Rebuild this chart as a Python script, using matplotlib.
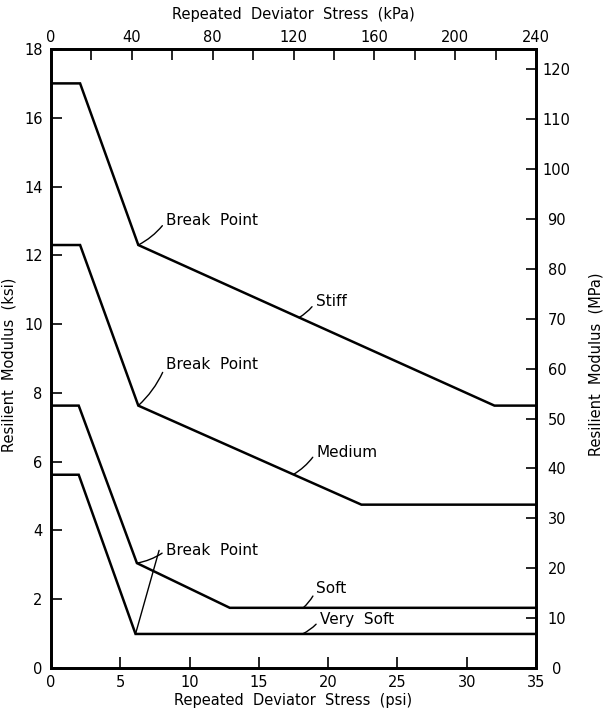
import matplotlib
matplotlib.use("Agg")
import matplotlib.pyplot as plt

plt.rcParams['font.family'] = ['DejaVu Sans']

# Resilient modulus (ksi) vs repeated deviator stress (psi) for four subgrade types
stiff_psi = [0.0, 2.1, 6.3, 32.0, 35.0]
stiff_ksi = [17.0, 17.0, 12.3, 7.63, 7.63]

medium_psi = [0.0, 2.1, 6.3, 22.4, 35.0]
medium_ksi = [12.3, 12.3, 7.63, 4.75, 4.75]

soft_psi = [0.0, 2.0, 6.2, 12.9, 35.0]
soft_ksi = [7.63, 7.63, 3.05, 1.75, 1.75]

very_soft_psi = [0.0, 2.0, 6.1, 35.0]
very_soft_ksi = [5.62, 5.62, 0.99, 0.99]

x_ticks_psi = [0, 5, 10, 15, 20, 25, 30, 35]
y_ticks_ksi = [0, 2, 4, 6, 8, 10, 12, 14, 16, 18]
top_ticks_kpa = [0, 20, 40, 60, 80, 100, 120, 140, 160, 180, 200, 220, 240]
top_labels_kpa = ['0', '', '40', '', '80', '', '120', '', '160', '', '200', '', '240']
right_ticks_mpa = [0, 10, 20, 30, 40, 50, 60, 70, 80, 90, 100, 110, 120]

KSI_TO_MPA = 6.895

fig = plt.figure(figsize=(6.03, 7.12), dpi=100)
ax = fig.add_axes([51 / 603, 44 / 712, 485 / 603, 619 / 712])

lw = 1.8
for xs, ys in [(stiff_psi, stiff_ksi), (medium_psi, medium_ksi),
               (soft_psi, soft_ksi), (very_soft_psi, very_soft_ksi)]:
    ax.plot(xs, ys, color='black', lw=lw, solid_joinstyle='miter')

ax.set_xlim(0, 35)
ax.set_ylim(0, 18)
for s in ax.spines.values():
    s.set_linewidth(1.8)

fs = 10.5
ax.set_xticks(x_ticks_psi)
ax.set_yticks(y_ticks_ksi)
ax.tick_params(axis='both', direction='in', length=8, width=1.2, labelsize=fs)
ax.tick_params(axis='y', pad=6)
ax.tick_params(axis='x', pad=5)
ax.set_xlabel('Repeated  Deviator  Stress  (psi)', fontsize=fs, labelpad=2)
ax.set_ylabel('Resilient  Modulus  (ksi)', fontsize=fs)
ax.yaxis.set_label_coords(-0.072, 0.49)

# Top axis in kPa
axt = ax.twiny()
axt.set_xlim(0, 240)
axt.set_xticks(top_ticks_kpa)
axt.set_xticklabels(top_labels_kpa)
axt.tick_params(axis='x', direction='in', length=8, width=1.2, labelsize=fs, pad=3)
axt.set_xlabel('Repeated  Deviator  Stress  (kPa)', fontsize=fs, labelpad=8)

# Right axis in MPa
axr = ax.twinx()
axr.set_ylim(0, 18 * KSI_TO_MPA)
axr.set_yticks(right_ticks_mpa)
axr.tick_params(axis='y', direction='in', length=7, width=1.2, labelsize=fs, pad=15)
for lab in axr.get_yticklabels():
    lab.set_horizontalalignment('center')
axr.set_ylabel('Resilient  Modulus  (MPa)', fontsize=fs)
axr.yaxis.set_label_coords(1.108, 0.49)
for a in (axt, axr):
    for s in a.spines.values():
        s.set_linewidth(1.8)

# Annotations
arrow = dict(arrowstyle='-', lw=1.0, color='black', shrinkA=1, shrinkB=0,
             relpos=(0, 0.5), connectionstyle='arc3,rad=-0.12')
tfs = 11
ax.annotate('Break  Point', xy=(stiff_psi[2], stiff_ksi[2]), xytext=(8.3, 13.0),
            ha='left', va='center', fontsize=tfs, arrowprops=arrow)
ax.annotate('Break  Point', xy=(medium_psi[2], medium_ksi[2]), xytext=(8.3, 8.83),
            ha='left', va='center', fontsize=tfs, arrowprops=arrow)
ax.annotate('Break  Point', xy=(soft_psi[2], soft_ksi[2]), xytext=(8.3, 3.42),
            ha='left', va='center', fontsize=tfs, arrowprops=arrow)
ax.annotate('', xy=(very_soft_psi[2], very_soft_ksi[2]), xytext=(7.8, 3.42),
            arrowprops=dict(arrowstyle='-', lw=1.0, color='black', shrinkA=0, shrinkB=0))

ax.annotate('Stiff', xy=(17.9, 10.19), xytext=(19.1, 10.65),
            ha='left', va='center', fontsize=tfs, arrowprops=arrow)
ax.annotate('Medium', xy=(17.5, 5.63), xytext=(19.15, 6.28),
            ha='left', va='center', fontsize=tfs, arrowprops=arrow)
ax.annotate('Soft', xy=(18.2, 1.75), xytext=(19.15, 2.3),
            ha='left', va='center', fontsize=tfs, arrowprops=arrow)
ax.annotate('Very  Soft', xy=(18.15, 0.99), xytext=(19.4, 1.4),
            ha='left', va='center', fontsize=tfs, arrowprops=arrow)

fig.savefig('out.png', dpi=100)
